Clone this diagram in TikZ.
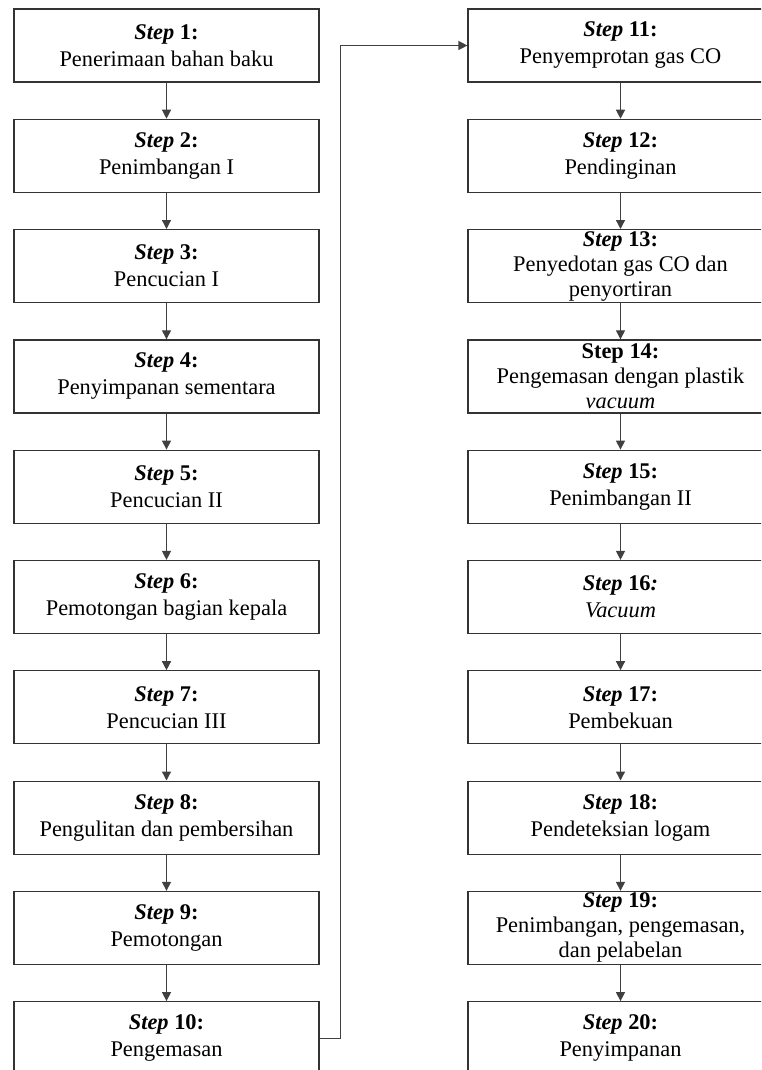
\documentclass[tikz,border=0pt]{standalone}
\usepackage{fontspec}
\setmainfont{Liberation Serif}
\usetikzlibrary{arrows.meta}

\tikzset{
  stepbox/.style={draw=black!80, line width=1.2pt, minimum width=305pt,
    minimum height=73pt, inner sep=0pt, align=center,
    font=\fontsize{22.4}{27}\selectfont},
  stepthree/.style={stepbox, font=\fontsize{22.4}{25}\selectfont},
  flow/.style={draw=black!75, line width=1.3pt, -{Triangle[length=9pt,width=9pt]}}
}
\newcommand{\stepno}[1]{\textbf{\textit{Step} #1:}}

\begin{document}
\begin{tikzpicture}[x=1pt, y=-1pt]
    \useasboundingbox (0,0) rectangle (761,1070);
    \clip (0,0) rectangle (761,1070);

    % Kolom kiri
    \node[stepbox] (s1) at (166.5,45.5) {\stepno{1}\\Penerimaan bahan baku};
    \node[stepbox] (s2) at (166.5,155.8) {\stepno{2}\\Penimbangan I};
    \node[stepbox] (s3) at (166.5,266.1) {\stepno{3}\\Pencucian I};
    \node[stepbox] (s4) at (166.5,376.4) {\stepno{4}\\Penyimpanan sementara};
    \node[stepbox] (s5) at (166.5,486.7) {\stepno{5}\\Pencucian II};
    \node[stepbox] (s6) at (166.5,597.0) {\stepno{6}\\Pemotongan bagian kepala};
    \node[stepbox] (s7) at (166.5,707.3) {\stepno{7}\\Pencucian III};
    \node[stepbox] (s8) at (166.5,817.6) {\stepno{8}\\Pengulitan dan pembersihan};
    \node[stepbox] (s9) at (166.5,927.9) {\stepno{9}\\Pemotongan};
    \node[stepbox] (s10) at (166.5,1038.2) {\stepno{10}\\Pengemasan};

    % Kolom kanan
    \node[stepbox] (s11) at (620.5,45.5) {\stepno{11}\\Penyemprotan gas CO};
    \node[stepbox] (s12) at (620.5,155.8) {\stepno{12}\\Pendinginan};
    \node[stepthree] (s13) at (620.5,266.1) {\stepno{13}\\Penyedotan gas CO dan\\penyortiran};
    \node[stepthree] (s14) at (620.5,376.4) {\textbf{Step 14:}\\Pengemasan dengan plastik\\\textit{vacuum}};
    \node[stepbox] (s15) at (620.5,486.7) {\stepno{15}\\Penimbangan II};
    \node[stepbox] (s16) at (620.5,597.0) {\textbf{\textit{Step} 16\textit{:}}\\\textit{Vacuum}};
    \node[stepbox] (s17) at (620.5,707.3) {\stepno{17}\\Pembekuan};
    \node[stepbox] (s18) at (620.5,817.6) {\stepno{18}\\Pendeteksian logam};
    \node[stepthree] (s19) at (620.5,927.9) {\stepno{19}\\Penimbangan, pengemasan,\\dan pelabelan};
    \node[stepbox] (s20) at (620.5,1038.2) {\stepno{20}\\Penyimpanan};

    % Panah
    \draw[flow] (s1) -- (s2);
    \draw[flow] (s2) -- (s3);
    \draw[flow] (s3) -- (s4);
    \draw[flow] (s4) -- (s5);
    \draw[flow] (s5) -- (s6);
    \draw[flow] (s6) -- (s7);
    \draw[flow] (s7) -- (s8);
    \draw[flow] (s8) -- (s9);
    \draw[flow] (s9) -- (s10);
    \draw[flow] (s10.east) -- ++(21,0) |- (s11.west);
    \draw[flow] (s11) -- (s12);
    \draw[flow] (s12) -- (s13);
    \draw[flow] (s13) -- (s14);
    \draw[flow] (s14) -- (s15);
    \draw[flow] (s15) -- (s16);
    \draw[flow] (s16) -- (s17);
    \draw[flow] (s17) -- (s18);
    \draw[flow] (s18) -- (s19);
    \draw[flow] (s19) -- (s20);
\end{tikzpicture}
\end{document}
